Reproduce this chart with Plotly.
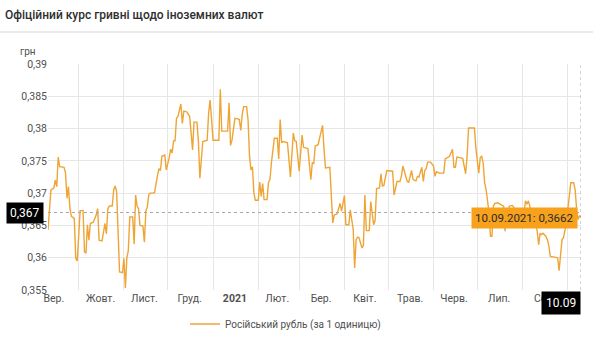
import plotly.graph_objects as go

# Official NBU rate of the hryvnia to the Russian rouble (UAH per 1 RUB)
dates = [
    "2020-09-10", "2020-09-12", "2020-09-14", "2020-09-15", "2020-09-16", "2020-09-17", "2020-09-18",
    "2020-09-21", "2020-09-22", "2020-09-23", "2020-09-24", "2020-09-25", "2020-09-26", "2020-09-28",
    "2020-09-29", "2020-09-30", "2020-10-01", "2020-10-02", "2020-10-04", "2020-10-05", "2020-10-06",
    "2020-10-07", "2020-10-08", "2020-10-09", "2020-10-11", "2020-10-12", "2020-10-13", "2020-10-14",
    "2020-10-15", "2020-10-17", "2020-10-18", "2020-10-19", "2020-10-20", "2020-10-21", "2020-10-22",
    "2020-10-24", "2020-10-25", "2020-10-26", "2020-10-27", "2020-10-28", "2020-10-29", "2020-10-31",
    "2020-11-01", "2020-11-02", "2020-11-03", "2020-11-04", "2020-11-05", "2020-11-07", "2020-11-08",
    "2020-11-09", "2020-11-10", "2020-11-11", "2020-11-12", "2020-11-14", "2020-11-15", "2020-11-16",
    "2020-11-17", "2020-11-18", "2020-11-19", "2020-11-21", "2020-11-22", "2020-11-24", "2020-11-25",
    "2020-11-26", "2020-11-27", "2020-11-29", "2020-11-30", "2020-12-02", "2020-12-03", "2020-12-04",
    "2020-12-05", "2020-12-06", "2020-12-07", "2020-12-08", "2020-12-10", "2020-12-11", "2020-12-12",
    "2020-12-14", "2020-12-16", "2020-12-17", "2020-12-18", "2020-12-19", "2020-12-21", "2020-12-22",
    "2020-12-23", "2020-12-25", "2020-12-28", "2020-12-29", "2020-12-30", "2020-12-31",
    "2021-01-01", "2021-01-05", "2021-01-06", "2021-01-07", "2021-01-11", "2021-01-12", "2021-01-13",
    "2021-01-14", "2021-01-16", "2021-01-18", "2021-01-19", "2021-01-20", "2021-01-21", "2021-01-22",
    "2021-01-24", "2021-01-25", "2021-01-26", "2021-01-27", "2021-01-28", "2021-01-29", "2021-01-30",
    "2021-02-01", "2021-02-02", "2021-02-03", "2021-02-04", "2021-02-05", "2021-02-07", "2021-02-08",
    "2021-02-09", "2021-02-10", "2021-02-12", "2021-02-14", "2021-02-15", "2021-02-16", "2021-02-17",
    "2021-02-18", "2021-02-21", "2021-02-23", "2021-02-25", "2021-02-26", "2021-02-27",
    "2021-03-01", "2021-03-03", "2021-03-04", "2021-03-05", "2021-03-07", "2021-03-09", "2021-03-10",
    "2021-03-11", "2021-03-12", "2021-03-14", "2021-03-15", "2021-03-17", "2021-03-18", "2021-03-19",
    "2021-03-22", "2021-03-23", "2021-03-24", "2021-03-25", "2021-03-27", "2021-03-29", "2021-03-30",
    "2021-04-01", "2021-04-02", "2021-04-04", "2021-04-05", "2021-04-07", "2021-04-08", "2021-04-09",
    "2021-04-10", "2021-04-11", "2021-04-13", "2021-04-14", "2021-04-15", "2021-04-16", "2021-04-18",
    "2021-04-19", "2021-04-20", "2021-04-21", "2021-04-22", "2021-04-23", "2021-04-25", "2021-04-26",
    "2021-04-27", "2021-04-28", "2021-04-30", "2021-05-03", "2021-05-04", "2021-05-05", "2021-05-07",
    "2021-05-09", "2021-05-10", "2021-05-11", "2021-05-13", "2021-05-14", "2021-05-15", "2021-05-17",
    "2021-05-18", "2021-05-19", "2021-05-20", "2021-05-21", "2021-05-22", "2021-05-24", "2021-05-25",
    "2021-05-26", "2021-05-27", "2021-05-28", "2021-05-30", "2021-06-01", "2021-06-02", "2021-06-03",
    "2021-06-05", "2021-06-08", "2021-06-09", "2021-06-12", "2021-06-14", "2021-06-15", "2021-06-16",
    "2021-06-17", "2021-06-20", "2021-06-21", "2021-06-23", "2021-06-24", "2021-06-25", "2021-06-29",
    "2021-06-30", "2021-07-01", "2021-07-02", "2021-07-03", "2021-07-04", "2021-07-05", "2021-07-06",
    "2021-07-07", "2021-07-08", "2021-07-09", "2021-07-10", "2021-07-11", "2021-07-12", "2021-07-13",
    "2021-07-15", "2021-07-17", "2021-07-19", "2021-07-20", "2021-07-21", "2021-07-23", "2021-07-25",
    "2021-07-26", "2021-07-27", "2021-07-30", "2021-08-01", "2021-08-03", "2021-08-04", "2021-08-05",
    "2021-08-06", "2021-08-07", "2021-08-09", "2021-08-11", "2021-08-12", "2021-08-13", "2021-08-14",
    "2021-08-15", "2021-08-17", "2021-08-18", "2021-08-19", "2021-08-20", "2021-08-23", "2021-08-25",
    "2021-08-26", "2021-08-27", "2021-08-28", "2021-08-29", "2021-08-30", "2021-08-31", "2021-09-01",
    "2021-09-02", "2021-09-03", "2021-09-05", "2021-09-06", "2021-09-07", "2021-09-08", "2021-09-09",
    "2021-09-10",
]

rub_rate = [
    0.3643, 0.3705, 0.3708, 0.3720, 0.3710, 0.3756, 0.3741,
    0.3740, 0.3731, 0.3692, 0.3710, 0.3677, 0.3664, 0.3661,
    0.3599, 0.3595, 0.3633, 0.3673, 0.3673, 0.3609, 0.3607,
    0.3651, 0.3627, 0.3653, 0.3655, 0.3660, 0.3666, 0.3676,
    0.3627, 0.3626, 0.3638, 0.3653, 0.3637, 0.3676, 0.3680,
    0.3680, 0.3705, 0.3711, 0.3702, 0.3633, 0.3578, 0.3577,
    0.3599, 0.3553, 0.3600, 0.3611, 0.3663, 0.3663, 0.3621,
    0.3697, 0.3680, 0.3676, 0.3650, 0.3649, 0.3624, 0.3672,
    0.3679, 0.3697, 0.3700, 0.3700, 0.3701, 0.3728, 0.3738,
    0.3735, 0.3757, 0.3759, 0.3736, 0.3755, 0.3768, 0.3762,
    0.3781, 0.3781, 0.3816, 0.3819, 0.3838, 0.3808, 0.3827,
    0.3826, 0.3819, 0.3793, 0.3767, 0.3810, 0.3810, 0.3780,
    0.3723, 0.3780, 0.3782, 0.3824, 0.3844, 0.3815,
    0.3782, 0.3782, 0.3861, 0.3796, 0.3796, 0.3840, 0.3774,
    0.3782, 0.3816, 0.3815, 0.3814, 0.3797, 0.3822, 0.3834,
    0.3834, 0.3813, 0.3757, 0.3736, 0.3741, 0.3700, 0.3689,
    0.3689, 0.3717, 0.3695, 0.3715, 0.3690, 0.3690, 0.3717,
    0.3721, 0.3747, 0.3785, 0.3785, 0.3753, 0.3814, 0.3778,
    0.3780, 0.3778, 0.3725, 0.3793, 0.3781, 0.3780,
    0.3734, 0.3790, 0.3771, 0.3770, 0.3769, 0.3721, 0.3747,
    0.3746, 0.3773, 0.3775, 0.3784, 0.3805, 0.3769, 0.3739,
    0.3740, 0.3696, 0.3654, 0.3666, 0.3668, 0.3684, 0.3672,
    0.3696, 0.3651, 0.3651, 0.3674, 0.3644, 0.3584, 0.3628,
    0.3632, 0.3631, 0.3615, 0.3619, 0.3697, 0.3642, 0.3642,
    0.3687, 0.3664, 0.3651, 0.3658, 0.3707, 0.3708, 0.3730,
    0.3711, 0.3712, 0.3735, 0.3735, 0.3734, 0.3697, 0.3718,
    0.3718, 0.3726, 0.3742, 0.3726, 0.3718, 0.3717, 0.3735,
    0.3721, 0.3720, 0.3719, 0.3726, 0.3725, 0.3740, 0.3718,
    0.3735, 0.3738, 0.3748, 0.3748, 0.3742, 0.3726, 0.3733,
    0.3731, 0.3731, 0.3753, 0.3757, 0.3768, 0.3740, 0.3740,
    0.3756, 0.3755, 0.3754, 0.3730, 0.3757, 0.3801, 0.3801,
    0.3770, 0.3747, 0.3731, 0.3755, 0.3757, 0.3747, 0.3716,
    0.3706, 0.3685, 0.3670, 0.3633, 0.3633, 0.3680, 0.3684,
    0.3685, 0.3683, 0.3680, 0.3641, 0.3669, 0.3680, 0.3681,
    0.3678, 0.3655, 0.3664, 0.3652, 0.3688, 0.3683, 0.3688,
    0.3680, 0.3670, 0.3665, 0.3641, 0.3620, 0.3638, 0.3636,
    0.3638, 0.3633, 0.3628, 0.3618, 0.3602, 0.3601, 0.3600,
    0.3580, 0.3612, 0.3628, 0.3631, 0.3641, 0.3654, 0.3675,
    0.3701, 0.3716, 0.3716, 0.3705, 0.3675, 0.3659, 0.3665,
    0.3662,
]

# Month labels sit in the middle of each month; gridlines mark month starts
month_label_dates = [
    "2020-09-14", "2020-10-16", "2020-11-15", "2020-12-16", "2021-01-16", "2021-02-14",
    "2021-03-16", "2021-04-15", "2021-05-16", "2021-06-15", "2021-07-16", "2021-08-16",
]
month_labels = [
    "Вер.", "Жовт.", "Лист.", "Груд.", "<b>2021</b>", "Лют.",
    "Бер.", "Квіт.", "Трав.", "Черв.", "Лип.", "Сер.",
]

y_ticks = [0.355, 0.36, 0.365, 0.37, 0.375, 0.38, 0.385, 0.39]
y_tick_labels = ["0,355", "0,36", "0,365", "0,37", "0,375", "0,38", "0,385", "0,39"]

series_name = "Російський рубль (за 1 одиницю)"
cursor_value = 0.367          # horizontal crosshair level
cursor_label = "0,367"
cursor_date_label = "10.09"
tooltip_text = "10.09.2021: 0,3662"

LINE = "#EEA536"
TIP = "#F7A11C"
GRID = "#E6E6E6"
TXT = "#505050"
FONT = "Roboto"

fig = go.Figure()
fig.add_trace(go.Scatter(
    x=dates, y=rub_rate, mode="lines", name=series_name,
    line=dict(color=LINE, width=1.4), hoverinfo="skip",
))

# crosshair
fig.add_shape(type="line", xref="paper", x0=0, x1=1, yref="y", y0=cursor_value, y1=cursor_value,
              line=dict(color="#A8A8A8", width=1, dash="dot"), layer="above")
fig.add_shape(type="line", xref="x", x0=dates[-1], x1=dates[-1], yref="paper", y0=0, y1=1,
              line=dict(color="#A8A8A8", width=1, dash="dot"), layer="above")

# separator under the header
fig.add_shape(type="line", xref="paper", x0=-48 / 533, x1=545 / 533, yref="paper",
              y0=258 / 226, y1=258 / 226, line=dict(color="#E4E4E4", width=1.5))

fig.add_annotation(xref="paper", yref="paper", x=-30 / 533, y=239 / 226, text="грн",
                   showarrow=False, xanchor="left", yanchor="middle",
                   font=dict(family=FONT, size=10, color=TXT))

fig.add_annotation(xref="paper", yref="y", x=0, y=cursor_value, text=cursor_label,
                   showarrow=False, xanchor="right", yanchor="middle", xshift=-4,
                   bgcolor="#000000", borderpad=3,
                   font=dict(family=FONT, size=12, color="#FFFFFF"))

fig.add_annotation(xref="x", yref="paper", x=dates[-1], y=0, text=cursor_date_label,
                   showarrow=False, xanchor="right", yanchor="top", yshift=-1,
                   bgcolor="#000000", borderpad=4,
                   font=dict(family=FONT, size=12, color="#FFFFFF"))

fig.add_annotation(xref="x", yref="y", x=dates[-1], y=rub_rate[-1], text=tooltip_text,
                   showarrow=False, xanchor="right", yanchor="middle", xshift=-3,
                   bgcolor=TIP, borderpad=3,
                   font=dict(family=FONT, size=11.5, color="#2B2B2B"))

fig.update_layout(
    width=593, height=350,
    margin=dict(l=48, r=12, t=64, b=60),
    paper_bgcolor="#FFFFFF", plot_bgcolor="#FFFFFF",
    font=dict(family=FONT, size=10.5, color=TXT),
    title=dict(text="Офіційний курс гривні щодо іноземних валют",
               xref="container", yref="container", x=5 / 593, y=1 - 15 / 350,
               xanchor="left", yanchor="middle",
               font=dict(family=FONT, size=12, color="#2E2E2E", weight=500)),
    showlegend=True,
    legend=dict(orientation="h", x=137 / 533, xanchor="left", y=-34 / 226, yanchor="middle",
                font=dict(family=FONT, size=10, color=TXT), bgcolor="rgba(0,0,0,0)"),
    xaxis=dict(
        range=[dates[0], dates[-1]], type="date",
        tickmode="array", tickvals=month_label_dates, ticktext=month_labels,
        showgrid=False, ticks="", showline=False, zeroline=False,
        tickfont=dict(family=FONT, size=10.5, color=TXT),
        minor=dict(dtick="M1", tick0="2020-10-01", showgrid=True, gridcolor=GRID, gridwidth=1, ticks=""),
    ),
    yaxis=dict(
        range=[y_ticks[0], y_ticks[-1]],
        tickmode="array", tickvals=y_ticks, ticktext=y_tick_labels,
        showgrid=True, gridcolor=GRID, gridwidth=1, zeroline=False, showline=False, ticks="",
        tickfont=dict(family=FONT, size=10.5, color=TXT),
    ),
)

fig.write_html("out.html", config={"displayModeBar": False})
